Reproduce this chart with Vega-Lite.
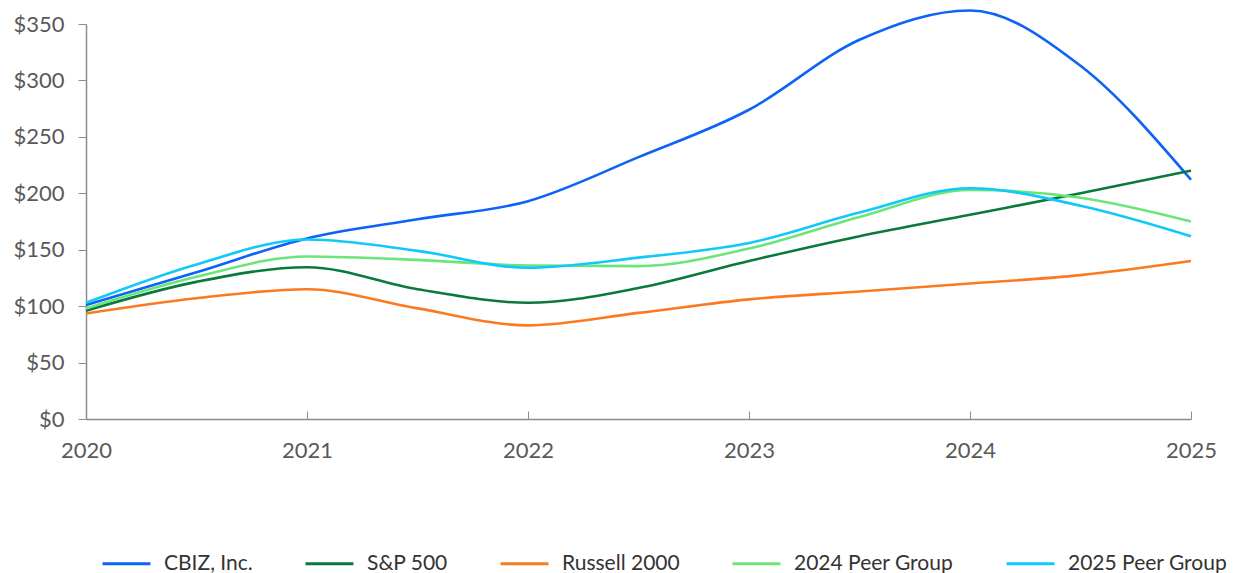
{
  "$schema": "https://vega.github.io/schema/vega-lite/v6.json",
  "autosize": {"type": "none"},
  "width": 1105,
  "height": 395,
  "padding": {"left": 86, "top": 24, "right": 50, "bottom": 154},
  "background": "white",
  "config": {
    "view": {"stroke": null},
    "font": "Lato",
    "axis": {"labelFont": "Lato", "labelFontSize": 22, "labelFontWeight": 400, "labelColor": "#595959", "domainColor": "#8c8c8c", "tickColor": "#8c8c8c", "domainWidth": 1.5, "tickWidth": 1, "grid": false, "title": null}
  },
  "data": {
    "values": [
      {"s": "CBIZ, Inc.", "o": 1, "t": 2020, "v": 101},
      {"s": "CBIZ, Inc.", "o": 1, "t": 2020.5, "v": 130},
      {"s": "CBIZ, Inc.", "o": 1, "t": 2021, "v": 160},
      {"s": "CBIZ, Inc.", "o": 1, "t": 2021.5, "v": 177},
      {"s": "CBIZ, Inc.", "o": 1, "t": 2022, "v": 193},
      {"s": "CBIZ, Inc.", "o": 1, "t": 2022.5, "v": 232},
      {"s": "CBIZ, Inc.", "o": 1, "t": 2023, "v": 274},
      {"s": "CBIZ, Inc.", "o": 1, "t": 2023.5, "v": 336},
      {"s": "CBIZ, Inc.", "o": 1, "t": 2024, "v": 362},
      {"s": "CBIZ, Inc.", "o": 1, "t": 2024.5, "v": 313},
      {"s": "CBIZ, Inc.", "o": 1, "t": 2025, "v": 212},
      {"s": "S&P 500", "o": 2, "t": 2020, "v": 96},
      {"s": "S&P 500", "o": 2, "t": 2020.5, "v": 121.5},
      {"s": "S&P 500", "o": 2, "t": 2021, "v": 134.5},
      {"s": "S&P 500", "o": 2, "t": 2021.5, "v": 115},
      {"s": "S&P 500", "o": 2, "t": 2022, "v": 103},
      {"s": "S&P 500", "o": 2, "t": 2022.5, "v": 116},
      {"s": "S&P 500", "o": 2, "t": 2023, "v": 140},
      {"s": "S&P 500", "o": 2, "t": 2023.5, "v": 162},
      {"s": "S&P 500", "o": 2, "t": 2024, "v": 181},
      {"s": "S&P 500", "o": 2, "t": 2024.5, "v": 200},
      {"s": "S&P 500", "o": 2, "t": 2025, "v": 220},
      {"s": "Russell 2000", "o": 3, "t": 2020, "v": 93.5},
      {"s": "Russell 2000", "o": 3, "t": 2020.5, "v": 107},
      {"s": "Russell 2000", "o": 3, "t": 2021, "v": 115},
      {"s": "Russell 2000", "o": 3, "t": 2021.5, "v": 98},
      {"s": "Russell 2000", "o": 3, "t": 2022, "v": 83},
      {"s": "Russell 2000", "o": 3, "t": 2022.5, "v": 94},
      {"s": "Russell 2000", "o": 3, "t": 2023, "v": 106},
      {"s": "Russell 2000", "o": 3, "t": 2023.5, "v": 113},
      {"s": "Russell 2000", "o": 3, "t": 2024, "v": 120},
      {"s": "Russell 2000", "o": 3, "t": 2024.5, "v": 127.5},
      {"s": "Russell 2000", "o": 3, "t": 2025, "v": 140},
      {"s": "2024 Peer Group", "o": 4, "t": 2020, "v": 98},
      {"s": "2024 Peer Group", "o": 4, "t": 2020.5, "v": 126},
      {"s": "2024 Peer Group", "o": 4, "t": 2021, "v": 144},
      {"s": "2024 Peer Group", "o": 4, "t": 2021.5, "v": 141},
      {"s": "2024 Peer Group", "o": 4, "t": 2022, "v": 136},
      {"s": "2024 Peer Group", "o": 4, "t": 2022.5, "v": 135.5},
      {"s": "2024 Peer Group", "o": 4, "t": 2023, "v": 151},
      {"s": "2024 Peer Group", "o": 4, "t": 2023.5, "v": 179},
      {"s": "2024 Peer Group", "o": 4, "t": 2024, "v": 203},
      {"s": "2024 Peer Group", "o": 4, "t": 2024.5, "v": 196},
      {"s": "2024 Peer Group", "o": 4, "t": 2025, "v": 175},
      {"s": "2025 Peer Group", "o": 5, "t": 2020, "v": 103},
      {"s": "2025 Peer Group", "o": 5, "t": 2020.5, "v": 137},
      {"s": "2025 Peer Group", "o": 5, "t": 2021, "v": 159},
      {"s": "2025 Peer Group", "o": 5, "t": 2021.5, "v": 149},
      {"s": "2025 Peer Group", "o": 5, "t": 2022, "v": 134},
      {"s": "2025 Peer Group", "o": 5, "t": 2022.5, "v": 143},
      {"s": "2025 Peer Group", "o": 5, "t": 2023, "v": 156},
      {"s": "2025 Peer Group", "o": 5, "t": 2023.5, "v": 183},
      {"s": "2025 Peer Group", "o": 5, "t": 2024, "v": 204.5},
      {"s": "2025 Peer Group", "o": 5, "t": 2024.5, "v": 189},
      {"s": "2025 Peer Group", "o": 5, "t": 2025, "v": 162}
    ]
  },
  "mark": {"type": "line", "interpolate": "monotone", "strokeWidth": 2.6, "clip": false},
  "encoding": {
    "x": {
      "field": "t", "type": "quantitative",
      "scale": {"domain": [2020, 2025], "nice": false, "zero": false},
      "axis": {"values": [2020, 2021, 2022, 2023, 2024, 2025], "format": "d", "tickSize": -8, "labelPadding": 29, "labelFlush": false}
    },
    "y": {
      "field": "v", "type": "quantitative",
      "scale": {"domain": [0, 350], "nice": false},
      "axis": {"values": [0, 50, 100, 150, 200, 250, 300, 350], "labelExpr": "'$' + datum.value", "tickSize": 8, "labelPadding": 14}
    },
    "color": {
      "field": "s", "type": "nominal",
      "scale": {
        "domain": ["CBIZ, Inc.", "S&P 500", "Russell 2000", "2024 Peer Group", "2025 Peer Group"],
        "range": ["#0d63f6", "#0a7a3b", "#fb7a20", "#6be57a", "#11c9f9"]
      },
      "legend": {
        "orient": "none", "legendX": 15, "legendY": 514, "direction": "horizontal", "title": null,
        "symbolType": "stroke", "symbolSize": 2300, "symbolStrokeWidth": 3,
        "labelFont": "Lato", "labelFontSize": 21, "labelFontWeight": 400, "labelColor": "#333333", "labelOffset": 12,
        "columnPadding": 46, "labelLimit": 300
      }
    },
    "order": {"field": "o"}
  }
}
